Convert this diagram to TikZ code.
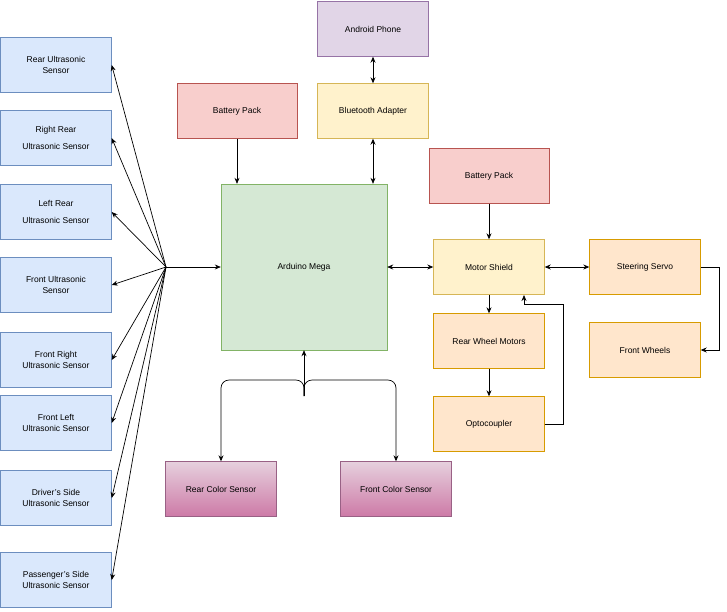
\documentclass[tikz,border=0pt]{standalone}
\usepackage{fontspec}
\setmainfont{Liberation Sans}
\usetikzlibrary{arrows.meta}
\definecolor{bluefill}{HTML}{DAE8FC}\definecolor{blueline}{HTML}{6C8EBF}
\definecolor{greenfill}{HTML}{D5E8D4}\definecolor{greenline}{HTML}{82B366}
\definecolor{redfill}{HTML}{F8CECC}\definecolor{redline}{HTML}{B85450}
\definecolor{yellowfill}{HTML}{FFF2CC}\definecolor{yellowline}{HTML}{D6B656}
\definecolor{purplefill}{HTML}{E1D5E7}\definecolor{purpleline}{HTML}{9673A6}
\definecolor{orangefill}{HTML}{FFE6CC}\definecolor{orangeline}{HTML}{D79B00}
\definecolor{pinktop}{HTML}{E6D0DE}\definecolor{pinkbot}{HTML}{CD7AA6}\definecolor{pinkline}{HTML}{996185}
\tikzset{
  box/.style={draw, minimum width=111pt, minimum height=55pt, align=center,
    font=\fontsize{8.5}{11}\selectfont, inner sep=2pt},
  sensor/.style={box, fill=bluefill, draw=blueline},
  power/.style={box, minimum width=120pt, fill=redfill, draw=redline},
  comm/.style={box, fill=yellowfill, draw=yellowline},
  drive/.style={box, fill=orangefill, draw=orangeline},
  color sensor/.style={box, top color=pinktop, bottom color=pinkbot, draw=pinkline},
  link/.style={line width=0.7pt, -{Stealth[length=6pt,width=5pt]}},
  duplex/.style={line width=0.7pt, {Stealth[length=6pt,width=5pt]}-{Stealth[length=6pt,width=5pt]}}
}
\begin{document}
\begin{tikzpicture}[x=1pt,y=-1pt]
  \useasboundingbox (0,0) rectangle (727,611);

  % left column of ultrasonic sensors
  \node[sensor] (s1) at (56,65) {Rear Ultrasonic\\Sensor};
  \node[sensor] (s2) at (56,138) {Right Rear\\[6pt]Ultrasonic Sensor};
  \node[sensor] (s3) at (56,212) {Left Rear\\[6pt]Ultrasonic Sensor};
  \node[sensor] (s4) at (56,285) {Front Ultrasonic\\Sensor};
  \node[sensor] (s5) at (56,360) {Front Right\\Ultrasonic Sensor};
  \node[sensor] (s6) at (56,423) {Front Left\\Ultrasonic Sensor};
  \node[sensor] (s7) at (56,498) {Driver's Side\\Ultrasonic Sensor};
  \node[sensor] (s8) at (56,580) {Passenger's Side\\Ultrasonic Sensor};

  % controller and its neighbours
  \node[box, minimum width=166pt, minimum height=166pt, fill=greenfill, draw=greenline] (mega) at (304,267) {Arduino Mega};
  \node[power] (bat1) at (237,111) {Battery Pack};
  \node[comm] (bt) at (373,111) {Bluetooth Adapter};
  \node[box, fill=purplefill, draw=purpleline] (phone) at (373,29) {Android Phone};
  \node[power] (bat2) at (489,176) {Battery Pack};
  \node[comm] (shield) at (489,267) {Motor Shield};
  \node[drive] (servo) at (645,267) {Steering Servo};
  \node[drive] (wheels) at (645,350) {Front Wheels};
  \node[drive] (motors) at (489,341) {Rear Wheel Motors};
  \node[drive] (opto) at (489,424) {Optocoupler};
  \node[color sensor] (rcs) at (221,489) {Rear Color Sensor};
  \node[color sensor] (fcs) at (396,489) {Front Color Sensor};

  % sensor hub
  \coordinate (hub) at (166,267);
  \draw[link] (hub) -- (mega);
  \foreach \s in {s1,s2,s3,s4,s5,s6,s7,s8}
    \draw[link] (hub) -- (\s.east);

  \draw[link] (bat1) -- (bat1 |- mega.north);
  \draw[duplex] (bt) -- (bt |- mega.north);
  \draw[duplex] (phone) -- (bt);
  \draw[duplex] (mega) -- (shield);
  \draw[link] (bat2) -- (shield);
  \draw[duplex] (shield) -- (servo);
  \draw[link] (servo.east) -- ++(19,0) |- (wheels.east);
  \draw[link] (shield) -- (motors);
  \draw[link] (motors) -- (opto);
  \draw[link] (opto.east) -- ++(19,0) |- (524,304) -- (524,295);

  % color sensors
  \coordinate (split) at (304,396);
  \draw[link] (split) -- (mega.south);
  \draw[link, rounded corners=8pt] (split) -- (304,380) -| (rcs.north);
  \draw[link, rounded corners=8pt] (split) -- (304,380) -| (fcs.north);
\end{tikzpicture}
\end{document}
